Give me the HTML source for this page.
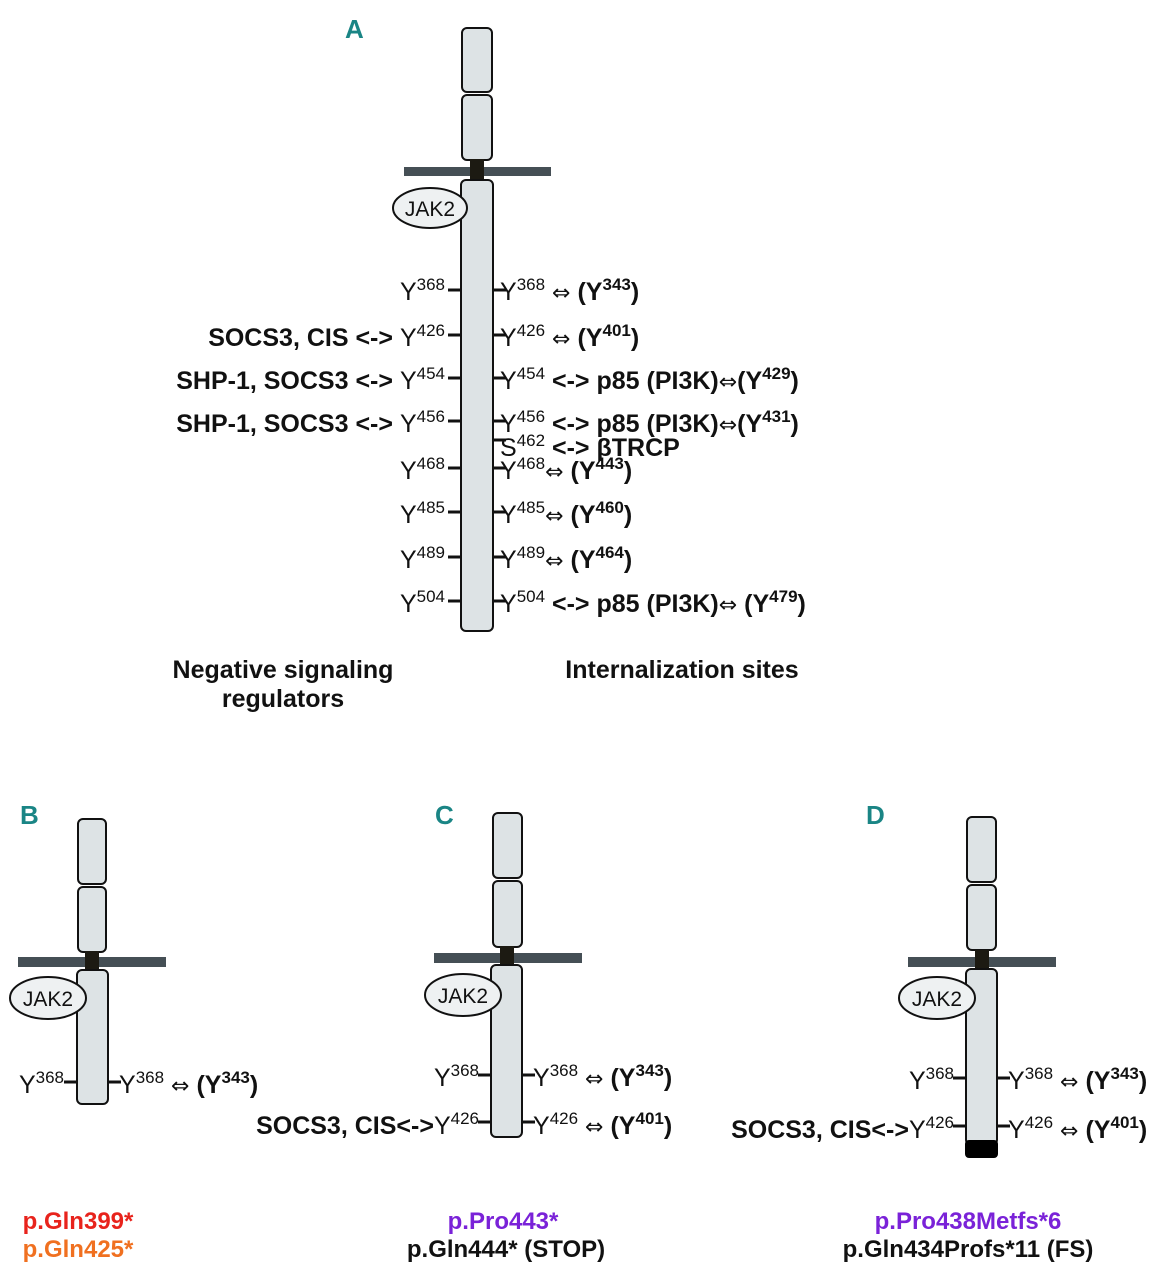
<!DOCTYPE html>
<html><head><meta charset="utf-8"><style>
html,body{margin:0;padding:0;background:#fff;}
svg{display:block;}
text{font-family:"Liberation Sans",sans-serif;fill:#111;}
.b{font-weight:bold;}
.lt{font-size:25px;}
.s{font-size:17px;}
.ar{font-family:"DejaVu Sans",sans-serif;font-size:22px;}
.teal{fill:#1a8585;font-weight:bold;font-size:26px;}
.bt{font-size:24px;font-weight:bold;}
</style></head><body>
<svg width="1164" height="1280" viewBox="0 0 1164 1280" xmlns="http://www.w3.org/2000/svg">
<!-- Panel A -->
<text x="345" y="38" class="teal">A</text>
<rect x="462" y="28" width="30" height="64" rx="5" fill="#dde3e5" stroke="#111" stroke-width="2"/>
<rect x="462" y="95" width="30" height="65" rx="5" fill="#dde3e5" stroke="#111" stroke-width="2"/>
<rect x="404" y="167" width="147" height="9" fill="#454f55"/>
<rect x="470" y="159" width="14" height="22" fill="#1c1a12"/>
<rect x="461" y="180" width="32" height="451" rx="5" fill="#dde3e5" stroke="#111" stroke-width="2"/>
<ellipse cx="430" cy="208" rx="37" ry="20" fill="#eef1f2" stroke="#111" stroke-width="2"/>
<text x="430" y="216" text-anchor="middle" font-size="21">JAK2</text>
<g stroke="#111" stroke-width="3">
<line x1="448" y1="290" x2="461" y2="290"/><line x1="448" y1="335" x2="461" y2="335"/>
<line x1="448" y1="378" x2="461" y2="378"/><line x1="448" y1="421" x2="461" y2="421"/>
<line x1="448" y1="468" x2="461" y2="468"/><line x1="448" y1="512" x2="461" y2="512"/>
<line x1="448" y1="557" x2="461" y2="557"/><line x1="448" y1="601" x2="461" y2="601"/>
<line x1="493" y1="290" x2="506" y2="290"/><line x1="493" y1="335" x2="506" y2="335"/>
<line x1="493" y1="378" x2="506" y2="378"/><line x1="493" y1="421" x2="506" y2="421"/>
<line x1="493" y1="440" x2="506" y2="440"/>
<line x1="493" y1="468" x2="506" y2="468"/><line x1="493" y1="512" x2="506" y2="512"/>
<line x1="493" y1="557" x2="506" y2="557"/><line x1="493" y1="601" x2="506" y2="601"/>
</g>
<g class="lt" text-anchor="end">
<text x="445" y="300">Y<tspan dy="-10" class="s">368</tspan></text>
<text x="445" y="346"><tspan class="b">SOCS3, CIS &lt;-&gt; </tspan>Y<tspan dy="-10" class="s">426</tspan></text>
<text x="445" y="389"><tspan class="b">SHP-1, SOCS3 &lt;-&gt; </tspan>Y<tspan dy="-10" class="s">454</tspan></text>
<text x="445" y="432"><tspan class="b">SHP-1, SOCS3 &lt;-&gt; </tspan>Y<tspan dy="-10" class="s">456</tspan></text>
<text x="445" y="479">Y<tspan dy="-10" class="s">468</tspan></text>
<text x="445" y="523">Y<tspan dy="-10" class="s">485</tspan></text>
<text x="445" y="568">Y<tspan dy="-10" class="s">489</tspan></text>
<text x="445" y="612">Y<tspan dy="-10" class="s">504</tspan></text>
</g>
<g class="lt">
<text x="500" y="300">Y<tspan dy="-10" class="s">368</tspan><tspan dy="10" class="ar"> ⇔ </tspan><tspan class="b">(Y<tspan dy="-10" class="s">343</tspan><tspan dy="10">)</tspan></tspan></text>
<text x="500" y="346">Y<tspan dy="-10" class="s">426</tspan><tspan dy="10" class="ar"> ⇔ </tspan><tspan class="b">(Y<tspan dy="-10" class="s">401</tspan><tspan dy="10">)</tspan></tspan></text>
<text x="500" y="389">Y<tspan dy="-10" class="s">454</tspan><tspan dy="10" class="b"> &lt;-&gt; p85 (PI3K)</tspan><tspan class="ar">⇔</tspan><tspan class="b">(Y<tspan dy="-10" class="s">429</tspan><tspan dy="10">)</tspan></tspan></text>
<text x="500" y="432">Y<tspan dy="-10" class="s">456</tspan><tspan dy="10" class="b"> &lt;-&gt; p85 (PI3K)</tspan><tspan class="ar">⇔</tspan><tspan class="b">(Y<tspan dy="-10" class="s">431</tspan><tspan dy="10">)</tspan></tspan></text>
<text x="500" y="456">S<tspan dy="-10" class="s">462</tspan><tspan dy="10" class="b"> &lt;-&gt; βTRCP</tspan></text>
<text x="500" y="479">Y<tspan dy="-10" class="s">468</tspan><tspan dy="10" class="ar">⇔ </tspan><tspan class="b">(Y<tspan dy="-10" class="s">443</tspan><tspan dy="10">)</tspan></tspan></text>
<text x="500" y="523">Y<tspan dy="-10" class="s">485</tspan><tspan dy="10" class="ar">⇔ </tspan><tspan class="b">(Y<tspan dy="-10" class="s">460</tspan><tspan dy="10">)</tspan></tspan></text>
<text x="500" y="568">Y<tspan dy="-10" class="s">489</tspan><tspan dy="10" class="ar">⇔ </tspan><tspan class="b">(Y<tspan dy="-10" class="s">464</tspan><tspan dy="10">)</tspan></tspan></text>
<text x="500" y="612">Y<tspan dy="-10" class="s">504</tspan><tspan dy="10" class="b"> &lt;-&gt; p85 (PI3K)</tspan><tspan class="ar">⇔ </tspan><tspan class="b">(Y<tspan dy="-10" class="s">479</tspan><tspan dy="10">)</tspan></tspan></text>
</g>
<g class="b lt" text-anchor="middle">
<text x="283" y="678">Negative signaling</text>
<text x="283" y="707">regulators</text>
<text x="682" y="678">Internalization sites</text>
</g>

<!-- Panel B -->
<text x="20" y="824" class="teal">B</text>
<rect x="78" y="819" width="28" height="65" rx="5" fill="#dde3e5" stroke="#111" stroke-width="2"/>
<rect x="78" y="887" width="28" height="65" rx="5" fill="#dde3e5" stroke="#111" stroke-width="2"/>
<rect x="18" y="957" width="148" height="10" fill="#454f55"/>
<rect x="85" y="951" width="14" height="21" fill="#1c1a12"/>
<rect x="77" y="970" width="31" height="134" rx="5" fill="#dde3e5" stroke="#111" stroke-width="2"/>
<ellipse cx="48" cy="998" rx="38" ry="21" fill="#eef1f2" stroke="#111" stroke-width="2"/>
<text x="48" y="1006" text-anchor="middle" font-size="21">JAK2</text>
<g stroke="#111" stroke-width="3"><line x1="64" y1="1082" x2="77" y2="1082"/><line x1="108" y1="1082" x2="121" y2="1082"/></g>
<g class="lt">
<text x="64" y="1093" text-anchor="end">Y<tspan dy="-10" class="s">368</tspan></text>
<text x="119" y="1093">Y<tspan dy="-10" class="s">368</tspan><tspan dy="10" class="ar"> ⇔ </tspan><tspan class="b">(Y<tspan dy="-10" class="s">343</tspan><tspan dy="10">)</tspan></tspan></text>
</g>
<g class="bt" text-anchor="middle">
<text x="78" y="1229" style="fill:#e8231c">p.Gln399*</text>
<text x="78" y="1257" style="fill:#f07020">p.Gln425*</text>
</g>

<!-- Panel C -->
<text x="435" y="824" class="teal">C</text>
<rect x="493" y="813" width="29" height="65" rx="5" fill="#dde3e5" stroke="#111" stroke-width="2"/>
<rect x="493" y="881" width="29" height="66" rx="5" fill="#dde3e5" stroke="#111" stroke-width="2"/>
<rect x="434" y="953" width="148" height="10" fill="#454f55"/>
<rect x="500" y="946" width="14" height="21" fill="#1c1a12"/>
<rect x="491" y="965" width="31" height="172" rx="5" fill="#dde3e5" stroke="#111" stroke-width="2"/>
<ellipse cx="463" cy="995" rx="38" ry="21" fill="#eef1f2" stroke="#111" stroke-width="2"/>
<text x="463" y="1003" text-anchor="middle" font-size="21">JAK2</text>
<g stroke="#111" stroke-width="3"><line x1="478" y1="1075" x2="491" y2="1075"/><line x1="522" y1="1075" x2="535" y2="1075"/><line x1="478" y1="1122" x2="491" y2="1122"/><line x1="522" y1="1122" x2="535" y2="1122"/></g>
<g class="lt">
<text x="479" y="1086" text-anchor="end">Y<tspan dy="-10" class="s">368</tspan></text>
<text x="479" y="1134" text-anchor="end"><tspan class="b">SOCS3, CIS&lt;-&gt;</tspan>Y<tspan dy="-10" class="s">426</tspan></text>
<text x="533" y="1086">Y<tspan dy="-10" class="s">368</tspan><tspan dy="10" class="ar"> ⇔ </tspan><tspan class="b">(Y<tspan dy="-10" class="s">343</tspan><tspan dy="10">)</tspan></tspan></text>
<text x="533" y="1134">Y<tspan dy="-10" class="s">426</tspan><tspan dy="10" class="ar"> ⇔ </tspan><tspan class="b">(Y<tspan dy="-10" class="s">401</tspan><tspan dy="10">)</tspan></tspan></text>
</g>
<g class="bt" text-anchor="middle">
<text x="503" y="1229" style="fill:#7a22d8">p.Pro443*</text>
<text x="506" y="1257">p.Gln444* (STOP)</text>
</g>

<!-- Panel D -->
<text x="866" y="824" class="teal">D</text>
<rect x="967" y="817" width="29" height="65" rx="5" fill="#dde3e5" stroke="#111" stroke-width="2"/>
<rect x="967" y="885" width="29" height="65" rx="5" fill="#dde3e5" stroke="#111" stroke-width="2"/>
<rect x="908" y="957" width="148" height="10" fill="#454f55"/>
<rect x="975" y="950" width="14" height="21" fill="#1c1a12"/>
<rect x="966" y="969" width="31" height="176" rx="5" fill="#dde3e5" stroke="#111" stroke-width="2"/>
<rect x="965" y="1140" width="33" height="18" rx="4" fill="#000"/>
<ellipse cx="937" cy="998" rx="38" ry="21" fill="#eef1f2" stroke="#111" stroke-width="2"/>
<text x="937" y="1006" text-anchor="middle" font-size="21">JAK2</text>
<g stroke="#111" stroke-width="3"><line x1="953" y1="1078" x2="966" y2="1078"/><line x1="997" y1="1078" x2="1010" y2="1078"/><line x1="953" y1="1126" x2="966" y2="1126"/><line x1="997" y1="1126" x2="1010" y2="1126"/></g>
<g class="lt">
<text x="954" y="1089" text-anchor="end">Y<tspan dy="-10" class="s">368</tspan></text>
<text x="954" y="1138" text-anchor="end"><tspan class="b">SOCS3, CIS&lt;-&gt;</tspan>Y<tspan dy="-10" class="s">426</tspan></text>
<text x="1008" y="1089">Y<tspan dy="-10" class="s">368</tspan><tspan dy="10" class="ar"> ⇔ </tspan><tspan class="b">(Y<tspan dy="-10" class="s">343</tspan><tspan dy="10">)</tspan></tspan></text>
<text x="1008" y="1138">Y<tspan dy="-10" class="s">426</tspan><tspan dy="10" class="ar"> ⇔ </tspan><tspan class="b">(Y<tspan dy="-10" class="s">401</tspan><tspan dy="10">)</tspan></tspan></text>
</g>
<g class="bt" text-anchor="middle">
<text x="968" y="1229" style="fill:#7a22d8">p.Pro438Metfs*6</text>
<text x="968" y="1257">p.Gln434Profs*11 (FS)</text>
</g>
</svg>
</body></html>
